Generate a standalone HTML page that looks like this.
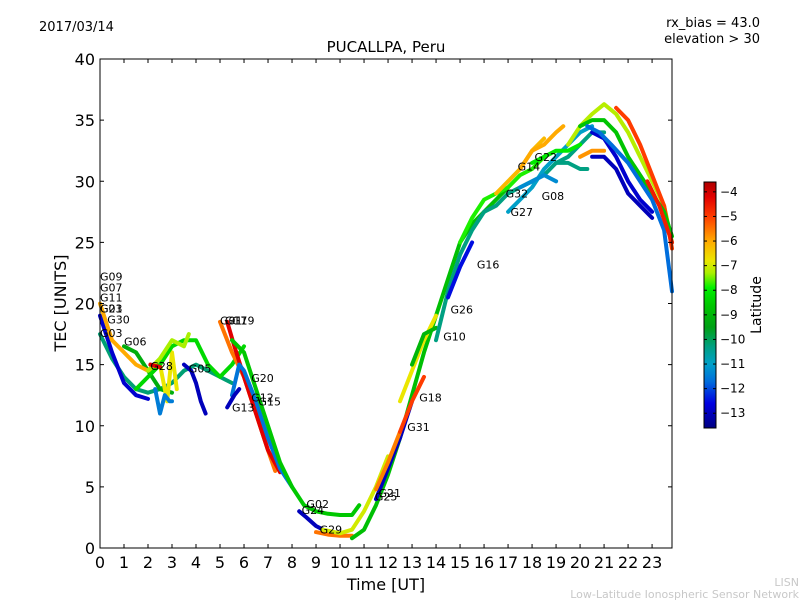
<!DOCTYPE html>
<html><head><meta charset="utf-8"><style>
body{margin:0;background:#fff;}
svg text{font-family:"DejaVu Sans","Liberation Sans",sans-serif;}
</style></head><body>
<svg id="chart" width="800" height="600" xmlns="http://www.w3.org/2000/svg">
<rect width="800" height="600" fill="#fff"/>
<g id="tracks"></g>
<g id="labels"></g>
<g id="axes"></g>
<text x="39" y="31" font-size="13">2017/03/14</text>
<text x="760" y="27" font-size="13" text-anchor="end">rx_bias = 43.0</text>
<text x="760" y="43" font-size="13" text-anchor="end">elevation &gt; 30</text>
<text x="386" y="52" font-size="15" text-anchor="middle">PUCALLPA, Peru</text>
<text x="386" y="590" font-size="16" text-anchor="middle">Time [UT]</text>
<text x="0" y="0" font-size="16" text-anchor="middle" transform="translate(66,303) rotate(-90)">TEC [UNITS]</text>
<g id="cbar"></g>
<text x="0" y="0" font-size="14" text-anchor="middle" transform="translate(761,305) rotate(-90)">Latitude</text>
<text x="799" y="586" font-size="11" fill="#c8c8c8" text-anchor="end">LISN</text>
<text x="799" y="598" font-size="11" fill="#c8c8c8" text-anchor="end">Low-Latitude Ionospheric Sensor Network</text>
</svg>
<script>
// ---- data ----
const trackTimes = [
 [0,0.5,1,1.5,2,2.5,3,3.5,4,4.5,5,5.5],
 [0,0.5,1,1.5,2],
 [1,1.5,2,2.5,3],
 [0,0.5,1,1.5,2,2.5,3],
 [2.5,2.8,3,3.2],
 [2.3,2.5,2.7,2.9,3],
 [3.5,3.8,4,4.2,4.4],
 [1.5,2,2.5,3,3.5,4,4.5,5,5.5,6],
 [2,2.5,3,3.5,3.7],
 [2.1,2.5],
 [5,5.5,6,6.5,7,7.3],
 [5.3,5.6,6,6.5,7,7.5],
 [5.5,5.8,6,6.5,7,7.5,8],
 [5.3,5.6,5.8],
 [5.5,6,6.5,7,7.5,8,8.5,9,9.5,10,10.5,10.8],
 [8.3,8.6,9,9.3],
 [9,9.5,10,10.5],
 [9.3,10,10.5,11,11.5,12],
 [10.5,11,11.5,12,12.5,13,13.5,14,14.5,15,15.5,16,16.5,17],
 [11.5,12,12.5,13],
 [11.5,12,12.5],
 [12.5,13,13.5],
 [12.5,13,13.5,14],
 [13,13.5,14],
 [14,14.5,15,15.5,16,16.5,17,17.5,18,18.5,19,19.5,20,20.5,21],
 [14.5,15,15.5],
 [15,15.5,16,16.5,17,17.5,18,18.5],
 [16.5,17,17.5,18,18.5],
 [17.5,18,18.5,19,19.3],
 [17,17.5,18,18.5,19,19.5,20,20.5],
 [17.5,18,18.5,19],
 [19.5,20,20.5,21,21.5,22,22.5,23,23.5,23.83],
 [21.5,22,22.5,23,23.5,23.83],
 [20,20.5,21,21.5,22,22.5,23,23.5,23.83],
 [20.5,21,21.5,22,22.5,23],
 [20.5,21,21.5,22,22.5,23],
 [20.3,20.8,21.3,22,22.5,23,23.5,23.83],
 [20,20.5,21],
 [19,19.5,20,20.3],
 [18,18.5,19,19.5,20],
 [22.8,23.3,23.83]
];
const trackTec = [
 [17.5,15.5,14,13,12.7,13,13.5,14.5,15,14.5,14,13.5],
 [19,16,13.5,12.5,12.2],
 [16.5,16,14.5,13,12.7],
 [20,17,16,15,14.5,15,16.5],
 [15,12,16,13],
 [13,11,12.5,12,12],
 [15,14.5,13.5,12,11],
 [13,14,15,16.5,17,17,15,14,15,16.5],
 [14.5,15.5,17,16.5,17.5],
 [15,14.8],
 [18.5,16,14,11,8,6.3],
 [18.5,16.5,14,11,8,6.2],
 [12.5,15,14.5,12,9,6.5,5],
 [11.5,12.5,13],
 [17,16,13,10,7,5,3.5,3,2.8,2.7,2.7,3.5],
 [3,2.5,1.8,1.5],
 [1.3,1.1,1,1],
 [1.5,1.2,1.5,3,5,7.5],
 [0.8,1.5,3.5,6,9,12.5,16,19,22,25,26.5,27.5,28.5,29.5],
 [4,6.5,9,12],
 [4.8,7,9.5],
 [9.5,12,14],
 [12,14.5,17,19],
 [15,17.5,18],
 [17,21,24,26,27.5,28,29,29.5,30,30.5,31.5,32,33,34,34],
 [20.5,23,25],
 [25,27,28.5,29,29.5,30.5,31,32],
 [29,30,31,32.5,33.5],
 [31,32.5,33,34,34.5],
 [27.5,28.5,29.5,31,32,33,34,34.5],
 [29.5,30,30.5,30],
 [33,34.5,35.5,36.3,35.5,34,32,30,28,25],
 [36,35,33,30.5,28,24.5],
 [34.5,35,35,34,32,30.5,29,27.5,25.5],
 [32,32,31,29,28,27],
 [34,33.5,32,30,28.5,27.5],
 [34.5,34,33,31.5,30,28.5,26,21],
 [32,32.5,32.5],
 [31.5,31.5,31,31],
 [31.5,32,32.5,32.5,33],
 [30,28,25]
];
const trackLat = [-10.2,-12.8,-9.2,-6,-6.8,-11.5,-13,-8.3,-7.3,-4.2,-5.5,-4.2,-11.6,-13,-8.6,-13,-5.5,-7,-8.8,-13,-5.6,-5,-6.8,-9,-10.3,-12.5,-7.8,-6.2,-6,-11,-11.3,-7.2,-5,-8.7,-13,-12.8,-11.7,-5.8,-10.3,-8,-4.6];
const labelNames = ["G09","G07","G11","G23","G01","G30","G03","G06","G28","G05","G01","G17","G19","G20","G12","G15","G13","G02","G24","G29","G21","G25","G31","G18","G10","G26","G16","G32","G27","G14","G22","G08"];
const labelT = [0,0,0,0,0,0.3,0,1,2.1,3.7,5,5.2,5.5,6.3,6.3,6.6,5.5,8.6,8.4,9.15,11.6,11.45,12.8,13.3,14.3,14.6,15.7,16.9,17.1,17.4,18.1,18.4];
const labelV = [22.2,21.3,20.5,19.6,19.6,18.7,17.6,16.9,14.9,14.7,18.6,18.6,18.6,13.9,12.3,12,11.5,3.6,3.1,1.5,4.5,4.2,9.9,12.3,17.3,19.5,23.2,29,27.5,31.2,32,28.8];
const xTicks = [0,1,2,3,4,5,6,7,8,9,10,11,12,13,14,15,16,17,18,19,20,21,22,23];
const yTicks = [0,5,10,15,20,25,30,35,40];
const cbTicks = [-4,-5,-6,-7,-8,-9,-10,-11,-12,-13];

// ---- scales ----
const X0=100,X1=672,Y0=548,Y1=59,TMAX=23.83,VMAX=40;
const xs=t=>X0+t*(X1-X0)/TMAX;
const ys=v=>Y0-v*(Y0-Y1)/VMAX;
const CB={x:704,w:12,top:182,bot:428,min:-13.6,max:-3.6};
const cy=l=>CB.bot-(l-CB.min)*(CB.bot-CB.top)/(CB.max-CB.min);
const STOPS=[[-13.6,[0,0,130]],[-12.6,[0,0,225]],[-11.7,[0,110,220]],[-11,[0,160,200]],[-10.3,[0,160,130]],[-9.5,[0,160,20]],[-8.6,[0,200,0]],[-7.9,[0,240,0]],[-7.3,[170,240,0]],[-6.8,[235,230,0]],[-6,[255,170,0]],[-5,[255,60,0]],[-4.2,[225,0,0]],[-3.6,[175,0,0]]];
function jet(l){
 if(l<=STOPS[0][0])return `rgb(${STOPS[0][1]})`;
 for(let i=1;i<STOPS.length;i++){
  if(l<=STOPS[i][0]){
   const a=STOPS[i-1],b=STOPS[i],f=(l-a[0])/(b[0]-a[0]);
   const c=a[1].map((v,k)=>Math.round(v+(b[1][k]-v)*f));
   return `rgb(${c})`;
  }
 }
 return `rgb(${STOPS[STOPS.length-1][1]})`;
}
const NS="http://www.w3.org/2000/svg";
function mk(tag,attrs,parent){const e=document.createElementNS(NS,tag);for(const k in attrs)e.setAttribute(k,attrs[k]);parent.appendChild(e);return e;}

// tracks
const tg=document.getElementById('tracks');
trackTimes.forEach((ts,i)=>{
 const pts=ts.map((t,j)=>xs(t).toFixed(1)+','+ys(trackTec[i][j]).toFixed(1)).join(' ');
 const p=mk('polyline',{points:pts,fill:'none',stroke:jet(trackLat[i]),'stroke-width':4,'stroke-linejoin':'round','stroke-linecap':'round'},tg);
 
 
});
// labels
const lg=document.getElementById('labels');
labelNames.forEach((n,i)=>{
 const t=mk('text',{x:xs(labelT[i]),y:ys(labelV[i])+4,'font-size':11},lg);
 t.textContent=n;
 
 
});
// axes
const ag=document.getElementById('axes');
const fr=mk('rect',{x:X0,y:Y1,width:X1-X0,height:Y0-Y1,fill:'none',stroke:'#000','stroke-width':1},ag);


xTicks.forEach(t=>{
 const x=xs(t);
 mk('line',{x1:x,x2:x,y1:Y0,y2:Y0-4,stroke:'#000'},ag);
 mk('line',{x1:x,x2:x,y1:Y1,y2:Y1+4,stroke:'#000'},ag);
 const tx=mk('text',{x:x,y:Y0+20,'font-size':16,'text-anchor':'middle'},ag);
 tx.textContent=t;
 
 
});
yTicks.forEach(v=>{
 const y=ys(v);
 mk('line',{x1:X0,x2:X0+4,y1:y,y2:y,stroke:'#000'},ag);
 mk('line',{x1:X1,x2:X1-4,y1:y,y2:y,stroke:'#000'},ag);
 const tx=mk('text',{x:X0-5,y:y+6,'font-size':16,'text-anchor':'end'},ag);
 tx.textContent=v;
 
 
});
// colorbar
const cg=document.getElementById('cbar');
for(let y=CB.top;y<CB.bot;y++){
 const l=CB.min+(CB.bot-y-0.5)*(CB.max-CB.min)/(CB.bot-CB.top);
 mk('rect',{x:CB.x,y:y,width:CB.w,height:1.2,fill:jet(l)},cg);
}
mk('rect',{x:CB.x,y:CB.top,width:CB.w,height:CB.bot-CB.top,fill:'none',stroke:'#000'},cg);
cbTicks.forEach(l=>{
 const y=cy(l);
 mk('line',{x1:CB.x,x2:CB.x+3,y1:y,y2:y,stroke:'#000'},cg);
 mk('line',{x1:CB.x+CB.w,x2:CB.x+CB.w-3,y1:y,y2:y,stroke:'#000'},cg);
 const tx=mk('text',{x:CB.x+CB.w+4,y:y+4,'font-size':12},cg);
 tx.textContent='\u2212'+Math.abs(l);
 
 
});
</script>
</body></html>
